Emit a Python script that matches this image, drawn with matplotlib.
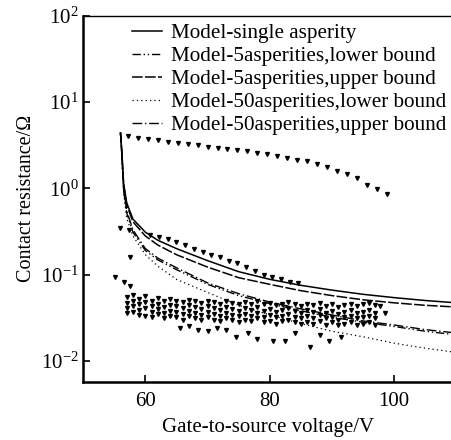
import matplotlib
matplotlib.use("Agg")
import matplotlib.pyplot as plt

plt.rcParams['font.family'] = ['Liberation Serif', 'DejaVu Serif']
plt.rcParams['mathtext.fontset'] = 'stix'

# model curves (gate-to-source voltage in V, resistance in ohm)
v_curve = [56.0, 56.2, 56.5, 57.0, 58.0, 60.0, 62.0, 65.0, 70.0, 75.0, 80.0, 85.0, 90.0, 95.0, 100.0, 105.0, 110.0]
r_single = [4.4, 2.8, 1.15, 0.68, 0.44, 0.31, 0.25, 0.20, 0.145, 0.108, 0.088, 0.075, 0.066, 0.059, 0.054, 0.050, 0.047]
r_5_upper = [4.4, 2.7, 1.1, 0.64, 0.41, 0.28, 0.22, 0.170, 0.122, 0.092, 0.077, 0.065, 0.057, 0.051, 0.047, 0.044, 0.042]
r_5_lower = [4.4, 2.5, 0.95, 0.52, 0.31, 0.19, 0.148, 0.114, 0.077, 0.057, 0.046, 0.038, 0.032, 0.028, 0.025, 0.022, 0.020]
r_50_upper = [4.4, 2.6, 1.0, 0.55, 0.33, 0.20, 0.155, 0.12, 0.080, 0.060, 0.048, 0.040, 0.034, 0.029, 0.026, 0.023, 0.021]
r_50_lower = [4.4, 2.4, 0.9, 0.45, 0.28, 0.17, 0.125, 0.088, 0.062, 0.044, 0.034, 0.027, 0.022, 0.019, 0.016, 0.014, 0.0125]

# measured points
up_v = [57.2, 58.8, 60.4, 62.0, 63.6, 65.2, 66.8, 68.4, 70.0, 71.6, 73.2, 74.8, 76.4, 78.0, 79.6, 81.2, 82.8, 84.4, 86.0, 87.6, 89.2, 90.8, 92.4, 94.0, 95.6, 97.2, 98.8]
up_r = [4.0, 3.85, 3.7, 3.6, 3.45, 3.35, 3.25, 3.15, 3.0, 2.95, 2.85, 2.8, 2.7, 2.6, 2.5, 2.4, 2.25, 2.15, 2.05, 1.9, 1.75, 1.6, 1.45, 1.3, 1.1, 0.97, 0.85]

mid_v = [55.9, 57.3, 60.8, 62.2, 63.6, 65.0, 66.4, 67.8, 69.2, 70.6, 72.0, 73.4, 74.8, 76.2, 77.6, 79.0, 80.4, 81.8, 83.2, 84.6]
mid_r = [0.35, 0.33, 0.29, 0.27, 0.255, 0.24, 0.22, 0.2, 0.185, 0.17, 0.16, 0.145, 0.135, 0.122, 0.11, 0.1, 0.094, 0.088, 0.083, 0.079]

iso_v = [55.1, 56.5, 57.5, 57.5]
iso_r = [0.093, 0.083, 0.073, 0.16]

cloud_v = [57.0, 58.0, 59.0, 60.0, 61.0, 62.0, 63.0, 64.0, 65.0, 66.0,
           67.0, 68.0, 69.0, 70.0, 71.0, 72.0, 73.0, 74.0, 75.0, 76.0,
           77.0, 78.0, 79.0, 80.0, 81.0, 82.0, 83.0, 84.0, 85.0, 86.0,
           87.0, 88.0, 89.0, 90.0, 91.0, 92.0, 93.0, 94.0, 95.0, 96.0,
           97.0]
cloud_a = [0.055, 0.058, 0.052, 0.056, 0.050, 0.054, 0.049, 0.052, 0.050, 0.048,
           0.051, 0.049, 0.047, 0.050, 0.048, 0.046, 0.049, 0.047, 0.045, 0.048,
           0.046, 0.050, 0.045, 0.047, 0.044, 0.046, 0.048, 0.045, 0.043, 0.046,
           0.044, 0.047, 0.043, 0.045, 0.042, 0.044, 0.046, 0.043, 0.045, 0.047,
           0.044]
cloud_b = [0.047, 0.050, 0.045, 0.048, 0.043, 0.046, 0.042, 0.044, 0.043, 0.041,
           0.044, 0.042, 0.040, 0.043, 0.041, 0.039, 0.042, 0.040, 0.038, 0.041,
           0.039, 0.042, 0.038, 0.040, 0.037, 0.039, 0.041, 0.038, 0.036, 0.039,
           0.037, 0.040, 0.036, 0.038, 0.035, 0.037, 0.039, 0.036, 0.037, 0.039,
           0.036]
cloud_c = [0.041, 0.043, 0.039, 0.041, 0.037, 0.040, 0.036, 0.038, 0.037, 0.035,
           0.038, 0.036, 0.034, 0.037, 0.035, 0.033, 0.036, 0.034, 0.033, 0.035,
           0.033, 0.036, 0.032, 0.034, 0.032, 0.033, 0.035, 0.032, 0.031, 0.033,
           0.031, 0.034, 0.031, 0.032, 0.030, 0.032, 0.033, 0.031, 0.032, 0.033,
           0.031]
cloud_d = [0.036, 0.037, 0.034, 0.033, 0.032, 0.035, 0.031, 0.033, 0.032, 0.030,
           0.033, 0.031, 0.030, 0.032, 0.030, 0.029, 0.031, 0.030, 0.028, 0.030,
           0.029, 0.031, 0.028, 0.029, 0.027, 0.029, 0.030, 0.028, 0.027, 0.028,
           0.027, 0.029, 0.026, 0.028, 0.026, 0.027, 0.028, 0.026, 0.027, 0.028,
           0.026]

sparse_v = [65.5, 67.0, 68.5, 70.0, 71.5, 73.0, 74.5, 76.5, 78.0, 80.5, 82.5, 84.0, 86.5, 88.0, 89.5, 91.5, 97.8, 98.5]
sparse_r = [0.024, 0.025, 0.023, 0.022, 0.024, 0.023, 0.019, 0.021, 0.018, 0.017, 0.017, 0.021, 0.0145, 0.020, 0.017, 0.019, 0.043, 0.036]

labels = ['Model-single asperity', 'Model-5asperities,lower bound', 'Model-5asperities,upper bound',
          'Model-50asperities,lower bound', 'Model-50asperities,upper bound']

fig = plt.figure(figsize=(4.52, 4.40), dpi=100)
ax = fig.add_axes([0.184, 0.132, 0.816, 0.832])

ax.plot(v_curve, r_single, color='k', lw=1.1, ls='-', label=labels[0])
ax.plot(v_curve, r_5_lower, color='k', lw=1.0, ls=(0, (6, 2, 1, 2, 1, 2)), label=labels[1])
ax.plot(v_curve, r_5_upper, color='k', lw=1.1, ls=(0, (7, 1.5)), label=labels[2])
ax.plot(v_curve, r_50_lower, color='k', lw=0.9, ls=(0, (1, 2.5)), label=labels[3])
ax.plot(v_curve, r_50_upper, color='k', lw=1.0, ls=(0, (7, 2, 1, 2)), label=labels[4])

mk = dict(ls='none', marker='v', ms=2.8, color='k')
ax.plot(up_v, up_r, **mk)
ax.plot(mid_v, mid_r, **mk)
ax.plot(iso_v, iso_r, **mk)
for row in [cloud_a, cloud_b, cloud_c, cloud_d]:
    ax.plot(cloud_v, row, **mk)
ax.plot(sparse_v, sparse_r, **mk)

ax.set_yscale('log')
ax.set_ylim(10 ** -2.245, 100)
ax.set_xlim(50, 109.3)
ax.set_xticks([60, 80, 100])
ax.minorticks_off()

ax.spines['right'].set_visible(False)
ax.spines['left'].set_linewidth(1.8)
ax.spines['bottom'].set_linewidth(1.8)
ax.spines['top'].set_linewidth(1.0)
ax.tick_params(direction='in', length=5, width=1.2, labelsize=15, top=False, right=False)
ax.tick_params(axis='x', pad=7)
ax.tick_params(axis='y', pad=3)

ax.set_xlabel('Gate-to-source voltage/V', fontsize=15, labelpad=5)
ax.set_ylabel('Contact resistance/Ω', fontsize=14.5, labelpad=4)

ax.legend(loc='upper left', bbox_to_anchor=(0.133, 0.979), frameon=False, fontsize=15.2,
          handlelength=1.4, handletextpad=0.45, labelspacing=0.15, borderpad=0, borderaxespad=0)

fig.savefig('out.png', dpi=100)
